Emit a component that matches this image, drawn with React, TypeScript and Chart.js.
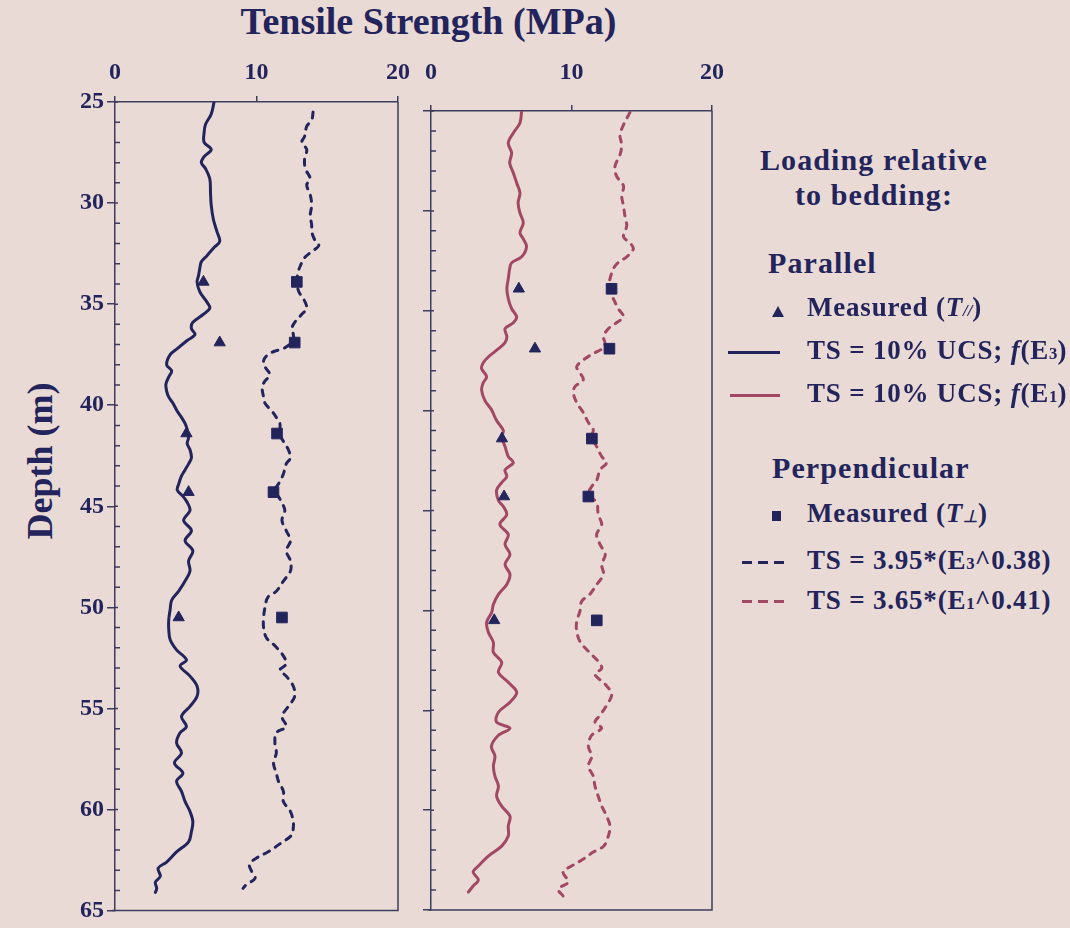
import React, { useEffect, useRef } from 'react';
import { Chart, registerables } from 'chart.js';

Chart.register(...registerables);

const BG = '#e9dad5';
const NAVY = '#23245c';
const MAROON = '#a24864';
const AXIS = '#3c3d5e';
const FONT = '"Liberation Serif", "Times New Roman", serif';

// ---- x-axis (Tensile Strength, MPa) and y-axis (Depth, m) ticks ----
const tsTicks = [0, 10, 20];
const depthMin = 25;
const depthMax = 65;

// ---- Measured, loading parallel to bedding (triangles) ----
const parDepth = [33.9, 36.9, 41.4, 44.3, 50.5];
const parTS = [6.25, 7.4, 5.05, 5.2, 4.5];

// ---- Measured, loading perpendicular to bedding (squares) ----
const perpDepth = [33.9, 36.9, 41.4, 44.3, 50.5];
const perpTS = [12.85, 12.7, 11.45, 11.2, 11.8];

// ---- TS = 10% UCS; f(E3) (navy solid, left panel) ----
const ucsE3Depth = [25.0, 25.6, 26.1, 26.5, 27.0, 27.35, 27.7, 28.0, 28.3, 28.8, 29.5, 30.1, 30.8, 31.4, 31.9, 32.2, 32.6, 32.9, 33.2, 33.6, 33.9, 34.4, 34.9, 35.2, 35.5, 35.9, 36.2, 36.5, 36.8, 37.2, 37.5, 38.0, 38.3, 38.6, 38.95, 39.3, 39.6, 39.9, 40.3, 40.6, 40.9, 41.2, 41.6, 41.9, 42.2, 42.6, 42.9, 43.2, 43.5, 43.9, 44.2, 44.5, 44.8, 45.2, 45.7, 46.2, 46.7, 47.2, 47.7, 48.2, 48.7, 49.2, 49.65, 50.1, 50.6, 51.1, 51.6, 52.1, 52.6, 52.9, 53.4, 53.9, 54.4, 54.9, 55.4, 55.9, 56.2, 56.7, 57.2, 57.7, 58.2, 58.6, 59.1, 59.6, 60.1, 60.6, 61.1, 61.6, 62.1, 62.6, 62.9, 63.3, 63.6, 63.9, 64.1];
const ucsE3TS = [7.0, 6.8, 6.4, 6.3, 6.3, 6.8, 6.3, 6.1, 6.4, 6.7, 6.75, 6.8, 6.95, 7.2, 7.4, 7.0, 6.5, 6.1, 6.0, 5.9, 5.8, 6.0, 6.5, 6.7, 6.25, 5.5, 5.4, 5.65, 5.1, 4.4, 3.9, 3.65, 4.0, 3.8, 3.6, 3.65, 3.8, 4.1, 4.4, 4.7, 4.95, 5.1, 5.2, 5.1, 5.3, 5.4, 5.2, 4.95, 4.7, 4.5, 4.4, 4.8, 5.1, 5.3, 4.85, 5.4, 4.95, 5.5, 5.2, 5.3, 4.95, 4.5, 4.0, 3.9, 3.8, 3.8, 3.9, 4.35, 5.05, 4.6, 5.3, 5.8, 5.8, 5.3, 4.7, 5.05, 4.6, 4.35, 4.7, 4.2, 4.8, 4.35, 4.7, 4.95, 5.3, 5.5, 5.4, 5.2, 4.35, 3.65, 3.05, 3.2, 2.85, 2.95, 2.85];

// ---- TS = 3.95*(E3^0.38) (navy dashed, left panel) ----
const powE3Depth = [25.5, 25.9, 26.2, 26.7, 27.0, 27.35, 27.8, 28.3, 28.8, 29.1, 29.6, 30.1, 30.6, 31.1, 31.4, 31.8, 32.1, 32.4, 32.7, 33.1, 33.4, 33.9, 34.4, 34.7, 35.2, 35.5, 35.9, 36.2, 36.5, 36.8, 37.2, 37.3, 37.5, 37.8, 38.1, 38.5, 38.8, 39.1, 39.6, 39.9, 40.3, 40.6, 40.9, 41.2, 41.4, 41.9, 42.2, 42.6, 42.9, 43.4, 43.9, 44.2, 44.7, 45.2, 45.7, 46.2, 46.7, 47.2, 47.7, 48.2, 48.7, 49.2, 49.5, 50.0, 50.5, 51.0, 51.5, 51.9, 52.4, 52.8, 53.1, 53.4, 53.9, 54.4, 54.9, 55.4, 55.9, 56.2, 56.7, 57.2, 57.7, 58.2, 58.6, 59.1, 59.6, 60.1, 60.6, 60.9, 61.25, 61.7, 62.1, 62.4, 62.7, 63.05, 63.4, 63.7, 63.9];
const powE3TS = [14.0, 13.9, 13.55, 13.4, 13.2, 13.55, 13.4, 13.45, 13.8, 13.55, 13.8, 13.9, 13.8, 13.9, 13.9, 14.1, 14.4, 13.9, 13.4, 13.1, 12.95, 12.85, 13.0, 13.3, 13.55, 13.2, 12.7, 12.5, 12.6, 12.6, 11.9, 11.4, 10.8, 10.5, 10.6, 10.95, 10.6, 10.4, 10.5, 10.6, 11.1, 11.4, 11.65, 11.65, 11.6, 12.0, 12.25, 12.4, 12.1, 11.9, 11.55, 11.3, 11.7, 12.0, 11.8, 12.1, 12.4, 12.1, 12.4, 12.4, 11.9, 11.4, 10.8, 10.6, 10.5, 10.5, 10.7, 11.3, 11.9, 12.1, 11.65, 12.1, 12.6, 12.7, 12.25, 11.8, 12.1, 11.4, 11.3, 11.4, 11.2, 11.4, 11.55, 11.9, 11.9, 12.4, 12.6, 12.6, 12.5, 11.65, 10.8, 10.0, 9.5, 9.65, 9.9, 9.3, 9.05];

// ---- TS = 10% UCS; f(E1) (maroon solid, right panel) ----
const ucsE1Depth = [25.0, 25.6, 26.1, 26.6, 27.1, 27.6, 28.1, 28.6, 29.1, 29.6, 30.1, 30.6, 31.1, 31.4, 31.8, 32.3, 32.6, 32.9, 33.4, 33.9, 34.4, 34.9, 35.3, 35.6, 35.9, 36.3, 36.6, 36.9, 37.3, 37.6, 37.9, 38.3, 38.6, 38.96, 39.5, 39.95, 40.5, 41.0, 41.3, 41.8, 42.3, 42.6, 42.97, 43.3, 43.6, 43.97, 44.5, 44.8, 45.2, 45.7, 46.2, 46.7, 47.2, 47.7, 48.2, 48.7, 49.2, 49.7, 50.1, 50.6, 51.1, 51.6, 52.1, 52.6, 53.1, 53.6, 54.1, 54.6, 55.1, 55.6, 55.9, 56.25, 56.8, 57.3, 57.8, 58.3, 58.8, 59.3, 59.8, 60.3, 60.8, 61.3, 61.8, 62.3, 62.8, 63.1, 63.5, 63.8, 64.1];
const ucsE1TS = [6.45, 6.33, 5.86, 5.5, 5.74, 5.6, 5.86, 6.1, 6.33, 6.2, 6.33, 6.57, 6.33, 6.57, 6.8, 6.45, 5.74, 5.6, 5.5, 5.4, 5.5, 5.74, 6.1, 5.86, 5.27, 5.4, 5.27, 4.8, 4.1, 3.72, 3.6, 3.96, 3.72, 3.6, 3.84, 4.3, 4.67, 5.15, 5.03, 5.27, 5.5, 5.86, 5.27, 5.39, 5.03, 4.67, 4.8, 5.15, 5.39, 4.9, 5.5, 5.27, 5.62, 5.27, 5.62, 5.39, 4.8, 4.44, 4.32, 3.96, 4.08, 4.44, 4.44, 5.03, 4.8, 5.5, 6.1, 5.62, 4.8, 4.67, 5.62, 4.8, 4.3, 4.55, 4.44, 4.55, 4.8, 4.67, 5.03, 5.62, 5.5, 5.5, 5.03, 4.08, 3.37, 3.0, 3.37, 3.0, 2.66];

// ---- TS = 3.65*(E1^0.41) (maroon dashed, right panel) ----
const powE1Depth = [25.07, 25.7, 26.2, 26.7, 27.2, 27.75, 28.25, 28.75, 29.25, 29.75, 30.25, 30.75, 31.3, 31.6, 31.9, 32.3, 32.6, 32.9, 33.4, 33.85, 34.4, 34.9, 35.3, 35.6, 35.9, 36.3, 36.6, 36.86, 37.1, 37.4, 37.8, 38.1, 38.45, 38.8, 39.1, 39.6, 40.1, 40.6, 40.95, 41.3, 41.8, 42.3, 42.6, 42.97, 43.5, 43.8, 44.2, 44.6, 45.2, 45.7, 46.2, 46.7, 47.2, 47.7, 48.2, 48.7, 49.2, 49.55, 50.05, 50.55, 51.05, 51.55, 52.05, 52.55, 52.9, 53.2, 53.7, 54.2, 54.75, 55.25, 55.6, 55.9, 56.25, 56.8, 57.3, 57.8, 58.3, 58.8, 59.3, 59.8, 60.3, 60.8, 61.3, 61.8, 62.1, 62.45, 62.8, 63.1, 63.6, 63.95, 64.3];
const powE1TS = [14.16, 13.7, 13.45, 13.57, 13.45, 13.1, 13.2, 13.7, 13.57, 13.7, 13.8, 13.93, 13.7, 14.16, 14.4, 13.93, 13.3, 12.98, 12.74, 12.62, 12.98, 13.33, 13.7, 13.2, 12.62, 12.27, 12.38, 12.27, 11.67, 10.96, 10.37, 10.6, 10.84, 10.25, 10.13, 10.37, 10.84, 11.2, 11.55, 11.44, 11.79, 12.15, 12.5, 12.03, 11.79, 11.44, 11.2, 11.79, 11.9, 12.15, 11.79, 12.03, 12.4, 12.15, 12.27, 11.8, 11.3, 10.72, 10.6, 10.37, 10.37, 10.6, 11.2, 11.9, 12.15, 11.67, 12.4, 12.86, 12.5, 12.03, 11.67, 12.15, 11.44, 11.2, 11.44, 11.2, 11.55, 11.67, 11.9, 12.15, 12.5, 12.74, 12.62, 12.3, 11.55, 10.84, 10.0, 9.4, 9.77, 9.06, 9.4];

const pts = (d: number[], v: number[]) => d.map((y, i) => ({ x: v[i], y }));

const framePlugin = {
  id: 'frame',
  afterDraw(chart: any) {
    const { ctx, chartArea: a } = chart;
    const ys = chart.scales.y;
    ctx.save();
    ctx.strokeStyle = AXIS;
    ctx.lineWidth = 1.5;
    ctx.beginPath();
    ctx.moveTo(a.right, a.top);
    ctx.lineTo(a.right, a.bottom);
    ctx.lineTo(a.left - 3, a.bottom);
    ys.ticks.forEach((t: any) => {
      const py = ys.getPixelForValue(t.value);
      const len = t.value % 5 === 0 ? 3 : 5;
      ctx.moveTo(a.left, py);
      ctx.lineTo(a.left + len, py);
    });
    ctx.stroke();
    ctx.restore();
  },
};

function makeConfig(side: 'left' | 'right') {
  const left = side === 'left';
  const lineColor = left ? NAVY : MAROON;
  const ucs = left ? pts(ucsE3Depth, ucsE3TS) : pts(ucsE1Depth, ucsE1TS);
  const pow = left ? pts(powE3Depth, powE3TS) : pts(powE1Depth, powE1TS);
  const tickFont = { family: FONT, size: 24, weight: 'bold' as const };
  return {
    type: 'scatter' as const,
    data: {
      datasets: [
        {
          label: 'Measured (T//)',
          data: pts(parDepth, parTS),
          pointStyle: 'triangle',
          pointRadius: 6.5,
          backgroundColor: NAVY,
          borderColor: NAVY,
          borderWidth: 1,
          showLine: false,
        },
        {
          label: 'Measured (T⊥)',
          data: pts(perpDepth, perpTS),
          pointStyle: 'rect',
          pointRadius: 7.5,
          backgroundColor: NAVY,
          borderColor: NAVY,
          borderWidth: 1,
          showLine: false,
        },
        {
          label: left ? 'TS = 10% UCS; f(E3)' : 'TS = 10% UCS; f(E1)',
          data: ucs,
          showLine: true,
          borderColor: lineColor,
          borderWidth: 3,
          pointRadius: 0,
          tension: 0.35,
          borderCapStyle: 'round',
          borderJoinStyle: 'round',
        },
        {
          label: left ? 'TS = 3.95*(E3^0.38)' : 'TS = 3.65*(E1^0.41)',
          data: pow,
          showLine: true,
          borderColor: lineColor,
          borderWidth: 3,
          borderDash: [6, 7],
          borderCapStyle: 'round',
          pointRadius: 0,
          tension: 0.35,
        },
      ],
    },
    options: {
      animation: false,
      responsive: false,
      events: [],
      layout: { padding: left ? { left: 0, top: 0, right: 22, bottom: 10 } : { left: 0, top: 0, right: 30, bottom: 18 } },
      plugins: { legend: { display: false }, tooltip: { enabled: false }, title: { display: false } },
      scales: {
        x: {
          type: 'linear',
          position: 'top',
          min: tsTicks[0],
          max: tsTicks[tsTicks.length - 1],
          afterBuildTicks: (s: any) => { s.ticks = tsTicks.map((v) => ({ value: v })); },
          ticks: { color: NAVY, font: tickFont, padding: left ? 9 : 18, maxRotation: 0 },
          grid: { drawOnChartArea: false, drawTicks: true, tickLength: 6, color: AXIS, lineWidth: 1.5 },
          border: { display: true, color: AXIS, width: 1.5 },
          afterFit: (s: any) => { s.height = left ? 102 : 111; },
        },
        y: {
          type: 'linear',
          position: 'left',
          reverse: true,
          min: depthMin,
          max: depthMax,
          ticks: {
            stepSize: 1,
            autoSkip: false,
            color: NAVY,
            font: tickFont,
            padding: 3,
            callback: (v: any) => (left && Number(v) % 5 === 0 ? String(v) : ''),
          },
          grid: {
            drawOnChartArea: false,
            drawTicks: true,
            tickLength: 8,
            lineWidth: 1.5,
            color: (c: any) => (c.tick && c.tick.value % 5 === 0 ? AXIS : 'rgba(0,0,0,0)'),
          },
          border: { display: true, color: AXIS, width: 1.5 },
          afterFit: (s: any) => { s.width = left ? 115 : 24; },
        },
      },
    },
    plugins: [framePlugin],
  };
}

const headStyle: React.CSSProperties = {
  position: 'absolute',
  fontSize: 30,
  lineHeight: '30px',
  fontWeight: 'bold',
  letterSpacing: '1.1px',
  whiteSpace: 'nowrap',
  color: NAVY,
};
const itemStyle: React.CSSProperties = {
  position: 'absolute',
  fontSize: 27,
  lineHeight: '27px',
  fontWeight: 'bold',
  letterSpacing: '0.8px',
  whiteSpace: 'nowrap',
  color: NAVY,
};
const sub: React.CSSProperties = { fontSize: '0.62em', letterSpacing: 0 };

function dash(color: string): React.CSSProperties {
  return {
    position: 'absolute',
    height: 3,
    width: 45,
    background: `repeating-linear-gradient(90deg, ${color} 0px, ${color} 10px, transparent 10px, transparent 16px)`,
  };
}

export default function App() {
  const leftRef = useRef<HTMLCanvasElement>(null);
  const rightRef = useRef<HTMLCanvasElement>(null);

  useEffect(() => {
    const c1 = new Chart(leftRef.current as HTMLCanvasElement, makeConfig('left') as any);
    const c2 = new Chart(rightRef.current as HTMLCanvasElement, makeConfig('right') as any);
    return () => {
      c1.destroy();
      c2.destroy();
    };
  }, []);

  return (
    <div
      style={{
        position: 'fixed',
        left: 0,
        top: 0,
        width: 1070,
        height: 928,
        background: BG,
        overflow: 'hidden',
        fontFamily: FONT,
        color: NAVY,
      }}
    >
      <div
        style={{
          position: 'absolute',
          left: 0,
          top: 2,
          width: 857,
          textAlign: 'center',
          fontSize: 38,
          lineHeight: '38px',
          fontWeight: 'bold',
          whiteSpace: 'nowrap',
        }}
      >
        Tensile Strength (MPa)
      </div>
      <div
        style={{
          position: 'absolute',
          left: 40 - 150,
          top: 461 - 18,
          width: 300,
          textAlign: 'center',
          fontSize: 36,
          lineHeight: '36px',
          fontWeight: 'bold',
          transform: 'rotate(-90deg)',
          whiteSpace: 'nowrap',
        }}
      >
        Depth (m)
      </div>
      <canvas ref={leftRef} width={420} height={928} style={{ position: 'absolute', left: 0, top: 0, width: 420, height: 928 }} />
      <canvas ref={rightRef} width={335} height={928} style={{ position: 'absolute', left: 407, top: 0, width: 335, height: 928 }} />

      <div style={{ ...headStyle, left: 760, top: 145 }}>Loading relative</div>
      <div style={{ ...headStyle, left: 795, top: 180 }}>to bedding:</div>
      <div style={{ ...headStyle, left: 768, top: 248 }}>Parallel</div>

      <div
        style={{
          position: 'absolute',
          left: 772,
          top: 306,
          width: 0,
          height: 0,
          borderLeft: '6px solid transparent',
          borderRight: '6px solid transparent',
          borderBottom: `11px solid ${NAVY}`,
        }}
      />
      <div style={{ ...itemStyle, left: 807, top: 294 }}>
        Measured (<i>T</i><i style={sub}>//</i>)
      </div>

      <div style={{ position: 'absolute', left: 728, top: 351, width: 52, height: 3, background: NAVY }} />
      <div style={{ ...itemStyle, left: 807, top: 337 }}>
        TS = 10% UCS; <i>f</i>(E<span style={sub}>3</span>)
      </div>

      <div style={{ position: 'absolute', left: 730, top: 394, width: 50, height: 3, background: MAROON }} />
      <div style={{ ...itemStyle, left: 807, top: 380 }}>
        TS = 10% UCS; <i>f</i>(E<span style={sub}>1</span>)
      </div>

      <div style={{ ...headStyle, left: 772, top: 453 }}>Perpendicular</div>

      <div style={{ position: 'absolute', left: 772, top: 511, width: 9, height: 10, background: NAVY }} />
      <div style={{ ...itemStyle, left: 807, top: 500 }}>
        Measured (<i>T</i><i style={sub}>⊥</i>)
      </div>

      <div style={{ ...dash(NAVY), left: 742, top: 561 }} />
      <div style={{ ...itemStyle, left: 807, top: 547 }}>
        TS = 3.95*(E<span style={sub}>3</span>^0.38)
      </div>

      <div style={{ ...dash(MAROON), left: 742, top: 600 }} />
      <div style={{ ...itemStyle, left: 807, top: 587 }}>
        TS = 3.65*(E<span style={sub}>1</span>^0.41)
      </div>
    </div>
  );
}
